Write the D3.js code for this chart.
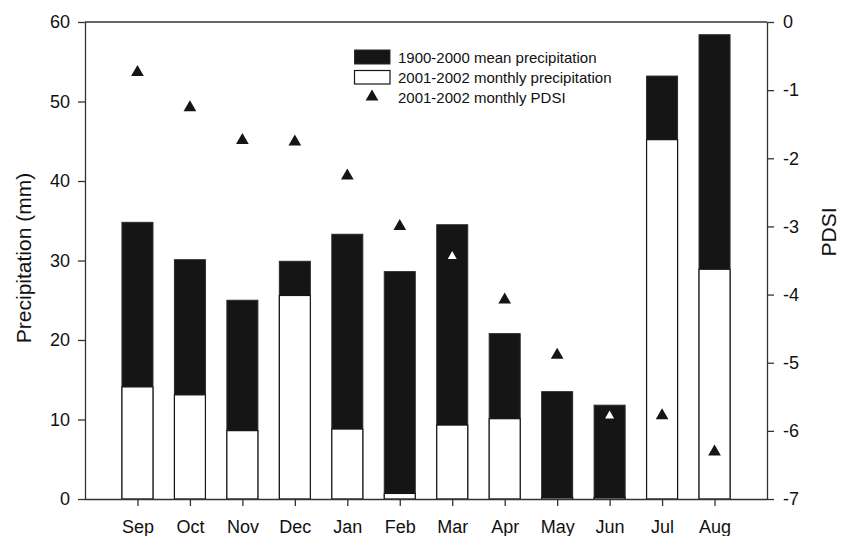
<!DOCTYPE html>
<html>
<head>
<meta charset="utf-8">
<script src="https://cdn.jsdelivr.net/npm/d3@7"></script>
<style>
  html, body { margin: 0; padding: 0; background: #fff; }
  svg { display: block; font-family: "Liberation Sans", Arial, sans-serif; }
</style>
</head>
<body>
<svg id="chart" width="842" height="536"></svg>
<script>
const months = ["Sep","Oct","Nov","Dec","Jan","Feb","Mar","Apr","May","Jun","Jul","Aug"];
const meanPrecip = [34.8, 30.1, 25.0, 29.9, 33.3, 28.6, 34.5, 20.8, 13.5, 11.8, 53.2, 58.4];
const monthlyPrecip = [14.1, 13.1, 8.6, 25.6, 8.8, 0.7, 9.3, 10.1, 0.2, 0.2, 45.2, 28.9];
const pdsi = [-0.71, -1.23, -1.71, -1.73, -2.23, -2.97, -3.42, -4.05, -4.86, -5.76, -5.75, -6.28];
const precipTicks = [0, 10, 20, 30, 40, 50, 60];
const pdsiTicks = [0, -1, -2, -3, -4, -5, -6, -7];
const legendLabels = ["1900-2000 mean precipitation", "2001-2002 monthly precipitation", "2001-2002 monthly PDSI"];

const mLeft = 85, mRight = 767, mTop = 22, mBottom = 499;
const axisColor = "#333";
const svg = d3.select("#chart");

const x = d3.scalePoint().domain(months).range([mLeft, mRight]).padding(1);
const y = d3.scaleLinear().domain([0, 60]).range([mBottom, mTop]);
const y2 = d3.scaleLinear().domain([-7, 0]).range([mBottom, mTop]);
const barW = 31;

// bars: mean (black) then monthly (white) overlay
const g = svg.append("g");
g.selectAll("rect.mean").data(months).join("rect")
  .attr("class", "mean")
  .attr("x", d => x(d) - barW / 2)
  .attr("width", barW)
  .attr("y", (d, i) => y(meanPrecip[i]))
  .attr("height", (d, i) => y(0) - y(meanPrecip[i]))
  .attr("fill", "#151515")
  .attr("stroke", "#2a2a2a")
  .attr("stroke-width", 1);
g.selectAll("rect.monthly").data(months).join("rect")
  .attr("class", "monthly")
  .attr("x", d => x(d) - barW / 2)
  .attr("width", barW)
  .attr("y", (d, i) => y(monthlyPrecip[i]))
  .attr("height", (d, i) => y(0) - y(monthlyPrecip[i]))
  .attr("fill", "#fff")
  .attr("stroke", "#151515")
  .attr("stroke-width", 1.2);

// triangles
function tri(w, h) { return `M0,${-h/2}L${w/2},${h/2}L${-w/2},${h/2}Z`; }
function inBlack(i) {
  const py = y2(pdsi[i]);
  return py >= y(meanPrecip[i]) && py <= y(monthlyPrecip[i]);
}
svg.append("g").selectAll("path").data(months).join("path")
  .attr("transform", (d, i) => `translate(${x(d)},${y2(pdsi[i])})`)
  .attr("d", (d, i) => inBlack(i) ? tri(9, 8) : tri(12.7, 11))
  .attr("fill", (d, i) => inBlack(i) ? "#fff" : "#151515");

// frame line on top
svg.append("line").attr("x1", mLeft).attr("x2", mRight).attr("y1", mTop).attr("y2", mTop)
  .attr("stroke", axisColor).attr("stroke-width", 1.3);

function styleAxis(sel, fs) {
  sel.selectAll("path, line").attr("stroke", axisColor).attr("stroke-width", 1.3);
  sel.selectAll("text").attr("fill", "#111").style("font-size", fs + "px")
    .style("font-family", '"Liberation Sans", Arial, sans-serif');
}

const ax = svg.append("g").attr("transform", `translate(0,${mBottom})`)
  .call(d3.axisBottom(x).tickSize(7).tickSizeOuter(0).tickPadding(14));
styleAxis(ax, 18);
ax.select(".domain").attr("d", `M${mLeft},0.5H${mRight}`);

const ayl = svg.append("g").attr("transform", `translate(${mLeft},0)`)
  .call(d3.axisLeft(y).tickValues(precipTicks).tickSize(7).tickSizeOuter(0).tickPadding(8));
styleAxis(ayl, 18);

const ayr = svg.append("g").attr("transform", `translate(${mRight},0)`)
  .call(d3.axisRight(y2).tickValues(pdsiTicks).tickFormat(d => String(d)).tickSize(7).tickSizeOuter(0).tickPadding(9));
styleAxis(ayr, 18);

// axis titles
svg.append("text")
  .attr("transform", `translate(31,258) rotate(-90)`)
  .attr("text-anchor", "middle")
  .style("font-size", "21px").attr("fill", "#111")
  .text("Precipitation (mm)");
svg.append("text")
  .attr("transform", `translate(836,232) rotate(-90)`)
  .attr("text-anchor", "middle")
  .style("font-size", "21px").attr("fill", "#111")
  .text("PDSI");

// legend
const lg = svg.append("g");
lg.append("rect").attr("x", 354.5).attr("y", 50).attr("width", 35.5).attr("height", 14)
  .attr("fill", "#151515").attr("stroke", "#2a2a2a");
lg.append("rect").attr("x", 354.5).attr("y", 70.5).attr("width", 35.5).attr("height", 13.5)
  .attr("fill", "#fff").attr("stroke", "#151515").attr("stroke-width", 1.2);
lg.append("path").attr("transform", "translate(372,95)").attr("d", tri(12.7, 11)).attr("fill", "#151515");
lg.selectAll("text").data(legendLabels).join("text")
  .attr("x", 398)
  .attr("y", (d, i) => 63 + i * 19.8)
  .style("font-size", "15px").attr("fill", "#111")
  .text(d => d);
</script>
</body>
</html>
